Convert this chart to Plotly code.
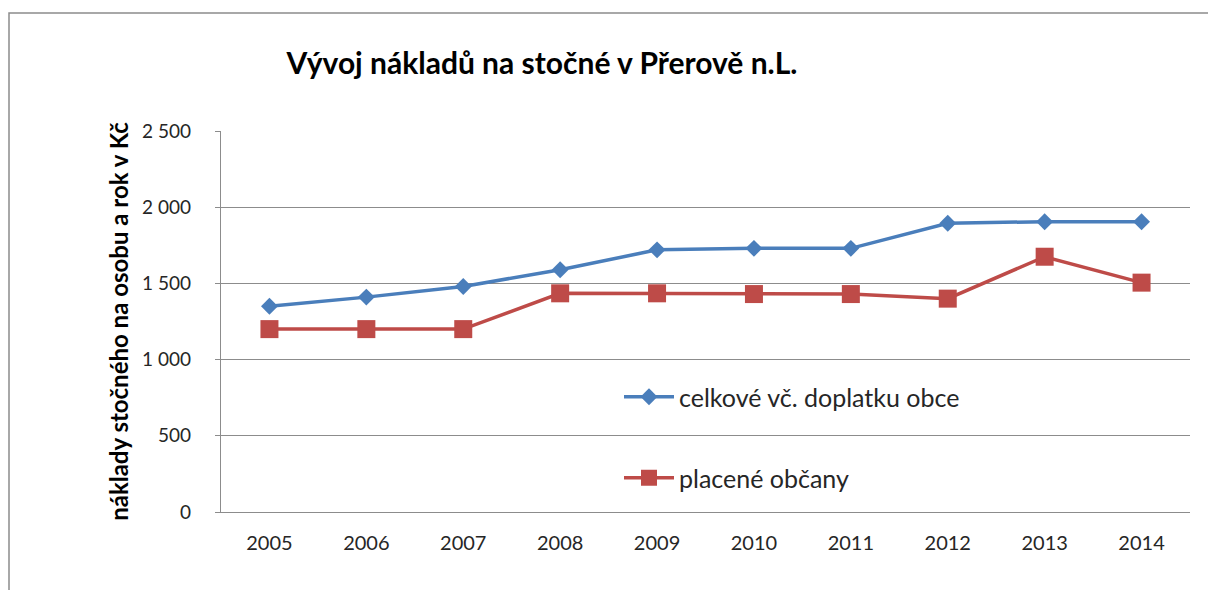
import plotly.graph_objects as go

years = ["2005", "2006", "2007", "2008", "2009", "2010", "2011", "2012", "2013", "2014"]
celkove = [1350, 1410, 1480, 1590, 1720, 1730, 1730, 1895, 1905, 1905]
placene = [1200, 1200, 1200, 1435, 1435, 1430, 1430, 1400, 1675, 1505]

title_text = "Vývoj nákladů na stočné v Přerově n.L."
y_title = "náklady stočného na osobu a rok v Kč"
name_celk = "celkové vč. doplatku obce"
name_plac = "placené občany"

FONT = "Lato"
BLUE = "#4A7EBB"
RED = "#BE4B48"
GRID = "#8C8C8C"

# page body has an 8px margin: figure origin sits at (8, 8) in the window
OX, OY = 8, 8
W, H = 1216 - OX, 590 - OY
PL, PR, PT, PB = 221, 1190, 131, 512  # plot area in window pixels
L, R, T, B = PL - OX, W - (PR - OX), PT - OY, H - (PB - OY)
pw, ph = W - L - R, H - T - B


def px_x(x):
    return (x - OX - L) / pw


def px_y(y):
    return (H - B - (y - OY)) / ph


fig = go.Figure()
fig.add_trace(go.Scatter(
    x=years, y=celkove, name=name_celk, mode="lines+markers",
    line=dict(color=BLUE, width=3.5),
    marker=dict(symbol="diamond", size=13, color=BLUE),
    legend="legend", showlegend=True,
))
fig.add_trace(go.Scatter(
    x=years, y=placene, name=name_plac, mode="lines+markers",
    line=dict(color=RED, width=3.5),
    marker=dict(symbol="square", size=18, color=RED),
    legend="legend2", showlegend=True,
))

leg_font = dict(family=FONT, size=25, color="#262626")

fig.update_layout(
    width=W, height=H,
    margin=dict(l=L, r=R, t=T, b=B),
    paper_bgcolor="white", plot_bgcolor="white",
    separators=", ",
    showlegend=True,
    font=dict(family=FONT, size=20, color="#404040"),
    title=dict(
        text=f"<b>{title_text}</b>",
        font=dict(family=FONT, size=30, color="black"),
        x=(542 - OX) / W, xanchor="center", y=1 - (63 - OY) / H, yanchor="middle",
    ),
    xaxis=dict(
        type="category",
        showgrid=False,
        showline=True, linecolor=GRID, linewidth=1.3,
        ticks="", ticklabelstandoff=13,
        tickfont=dict(family=FONT, size=20, color="#262626"),
        range=[-0.5, len(years) - 0.5],
    ),
    yaxis=dict(
        range=[0, 2500], dtick=500, tick0=0,
        tickformat=",d",
        showgrid=True, gridcolor=GRID, gridwidth=1.2,
        showline=True, linecolor=GRID, linewidth=1.3,
        ticks="outside", ticklen=5, tickcolor=GRID,
        ticklabelstandoff=20,
        tickfont=dict(family=FONT, size=19, color="#262626"),
        title=dict(
            text=f"<b>{y_title}</b>",
            font=dict(family=FONT, size=24, color="black"),
            standoff=6,
        ),
        zeroline=False,
    ),
    legend=dict(
        x=px_x(619), xanchor="left", y=px_y(397), yanchor="middle",
        bgcolor="rgba(0,0,0,0)", itemwidth=50,
        font=leg_font,
    ),
    legend2=dict(
        x=px_x(619), xanchor="left", y=px_y(478), yanchor="middle",
        bgcolor="rgba(0,0,0,0)", itemwidth=50,
        font=leg_font,
    ),
    shapes=[dict(
        type="rect", xref="paper", yref="paper",
        x0=px_x(9), x1=px_x(1240), y0=px_y(620), y1=px_y(13),
        line=dict(color="#8C8C8C", width=1.5), fillcolor="rgba(0,0,0,0)",
        layer="below",
    )],
)

fig.write_html("out.html")
